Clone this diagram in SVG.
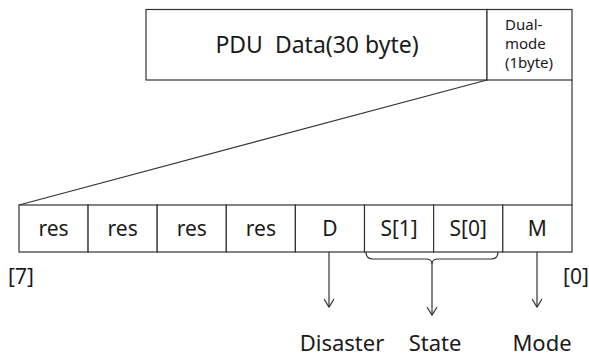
<svg xmlns="http://www.w3.org/2000/svg" width="589" height="357" viewBox="0 0 589 357">
  <defs>
    <marker id="open-arrow" markerWidth="12" markerHeight="12" refX="9" refY="6" orient="auto" markerUnits="userSpaceOnUse" viewBox="0 0 12 12">
      <path d="M1,1 L9,6 L1,11" fill="none" stroke="#333" stroke-width="1.2"/>
    </marker>
    <style>
      .box { fill: #fff; stroke: #333; stroke-width: 1.2; }
      .line { fill: none; stroke: #333; stroke-width: 1.2; }
      .lbl { font-family: "Noto Sans", "Open Sans", sans-serif; fill: #1a1a1a; }
      .big { font-size: 22px; }
      .title { font-size: 23px; }
      .bit { font-size: 21px; text-anchor: middle; }
      .small { font-size: 15px; }
    </style>
  </defs>
  <rect width="589" height="357" fill="#fff"/>

  <!-- PDU frame -->
  <g id="pdu-data">
    <rect class="box" x="146" y="9.5" width="341" height="70.5"/>
    <text class="lbl title" x="317" y="53" text-anchor="middle" xml:space="preserve">PDU  Data(30 byte)</text>
  </g>
  <g id="dual-mode">
    <rect class="box" x="487" y="9.5" width="85" height="70.5"/>
    <text class="lbl small" x="505" y="30">Dual-</text>
    <text class="lbl small" x="505" y="49">mode</text>
    <text class="lbl small" x="505" y="68">(1byte)</text>
  </g>

  <!-- expansion of the Dual-mode byte into bits -->
  <g id="connectors">
    <line class="line" x1="487" y1="80" x2="19" y2="205"/>
    <line class="line" x1="572" y1="80" x2="572" y2="205"/>
    <line class="line" x1="329" y1="252" x2="329" y2="307" marker-end="url(#open-arrow)"/>
    <path class="line" d="M366,252 Q366,259 373,259 L426,259 Q432,259 432,264 Q432,259 438,259 L491,259 Q498,259 498,252"/>
    <line class="line" x1="432" y1="263" x2="432" y2="315" marker-end="url(#open-arrow)"/>
    <line class="line" x1="537" y1="252" x2="537" y2="307" marker-end="url(#open-arrow)"/>
  </g>

  <!-- bit fields, MSB [7] on the left -->
  <g id="bit7"><rect class="box" x="19" y="205" width="69.1" height="47"/><text class="lbl bit" x="53.6" y="236">res</text></g>
  <g id="bit6"><rect class="box" x="88.1" y="205" width="69.1" height="47"/><text class="lbl bit" x="122.7" y="236">res</text></g>
  <g id="bit5"><rect class="box" x="157.2" y="205" width="69.1" height="47"/><text class="lbl bit" x="191.8" y="236">res</text></g>
  <g id="bit4"><rect class="box" x="226.3" y="205" width="69.1" height="47"/><text class="lbl bit" x="260.9" y="236">res</text></g>
  <g id="bit3"><rect class="box" x="295.4" y="205" width="69.1" height="47"/><text class="lbl bit" x="330" y="236">D</text></g>
  <g id="bit2"><rect class="box" x="364.5" y="205" width="69.1" height="47"/><text class="lbl bit" x="399.1" y="236">S[1]</text></g>
  <g id="bit1"><rect class="box" x="433.6" y="205" width="69.2" height="47"/><text class="lbl bit" x="468.2" y="236">S[0]</text></g>
  <g id="bit0"><rect class="box" x="502.8" y="205" width="69.2" height="47"/><text class="lbl bit" x="537.4" y="236">M</text></g>

  <!-- bit index labels -->
  <g id="index-labels">
    <text class="lbl bit" x="21" y="284">[7]</text>
    <text class="lbl bit" x="576" y="284">[0]</text>
  </g>

  <!-- field names -->
  <g id="field-names">
    <text class="lbl big" x="342" y="351" text-anchor="middle">Disaster</text>
    <text class="lbl big" x="435" y="351" text-anchor="middle">State</text>
    <text class="lbl big" x="542" y="351" text-anchor="middle">Mode</text>
  </g>
</svg>
